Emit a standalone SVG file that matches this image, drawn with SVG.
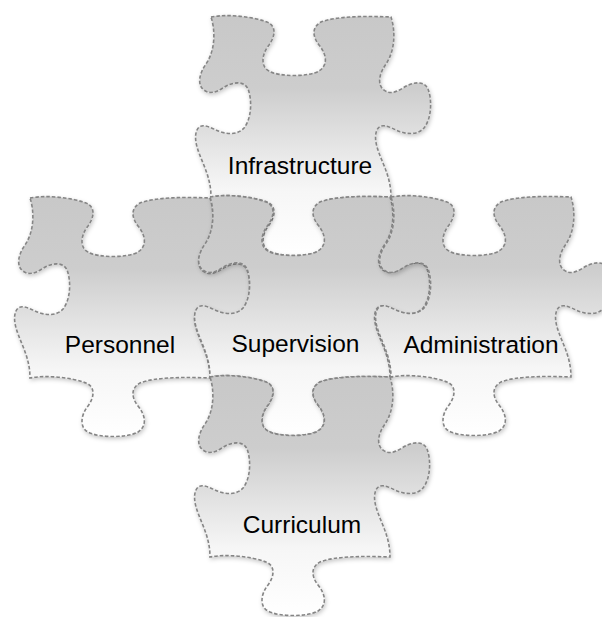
<svg xmlns="http://www.w3.org/2000/svg" xmlns:xlink="http://www.w3.org/1999/xlink" width="602" height="617" viewBox="0 0 602 617">
<style>
.pc{fill:url(#g);stroke:#858585;stroke-width:1.6;stroke-dasharray:3.5 2;filter:url(#sh)}
.lb{font-family:"Liberation Sans",Arial,sans-serif;font-size:24.5px;fill:#000;text-anchor:middle}
</style>
<defs>
<linearGradient id="g" x1="0" y1="0" x2="0" y2="1">
<stop offset="0" stop-color="#c8c8c8"/>
<stop offset="0.3" stop-color="#cdcdcd"/>
<stop offset="0.72" stop-color="#f6f6f6"/>
<stop offset="1" stop-color="#ffffff"/>
</linearGradient>
<filter id="sh" x="-10%" y="-10%" width="125%" height="125%">
<feDropShadow dx="1" dy="2" stdDeviation="2" flood-color="#000" flood-opacity="0.22"/>
</filter>
<path id="piece" d="M0,0 C15,-3 40,-1 56,5 C66,9 64,20 58,28 C50,38 50,50 58,54 C68,60 98,60 108,54 C117,48 116,38 108,28 C101,19 101,10 110,5 C125,-1 155,-1 180,0 C184,12 185,32 175,47 C168,57 166,68 173,73 C178,77 184,76 192,71 C201,65 213,63 217,72 C221,82 221,101 213,111 C206,119 193,117 185,113 C177,109 169,106 166,113 C162,122 167,134 172,146 C177,158 180,168 180,180 C155,179 125,179 110,185 C101,190 101,199 108,208 C116,218 117,228 108,234 C98,240 68,240 58,234 C50,230 50,218 58,208 C64,200 66,189 56,185 C40,179 15,177 0,180 C0,168 -3,158 -8,146 C-13,134 -18,122 -14,113 C-11,106 -3,109 5,113 C13,117 26,119 33,111 C41,101 41,82 37,72 C33,63 21,65 12,71 C4,76 -2,77 -7,73 C-14,68 -12,57 -5,47 C5,32 4,12 0,0 Z"/>
</defs>
<rect width="602" height="617" fill="#fff"/>
<g id="infrastructure" transform="translate(211,17)">
<use xlink:href="#piece" href="#piece" class="pc"/>
<text class="lb" x="89" y="157">Infrastructure</text>
</g>
<g id="personnel" transform="translate(30,198)">
<use xlink:href="#piece" href="#piece" class="pc"/>
<text class="lb" x="90" y="155">Personnel</text>
</g>
<g id="supervision" transform="translate(210,197)">
<use xlink:href="#piece" href="#piece" class="pc"/>
<text class="lb" x="85.5" y="155">Supervision</text>
</g>
<g id="administration" transform="translate(391,197)">
<use xlink:href="#piece" href="#piece" class="pc"/>
<text class="lb" x="90" y="156">Administration</text>
</g>
<g id="curriculum" transform="translate(210,377)">
<use xlink:href="#piece" href="#piece" class="pc"/>
<text class="lb" x="92" y="156">Curriculum</text>
</g>
<g id="connectors"/>
</svg>
